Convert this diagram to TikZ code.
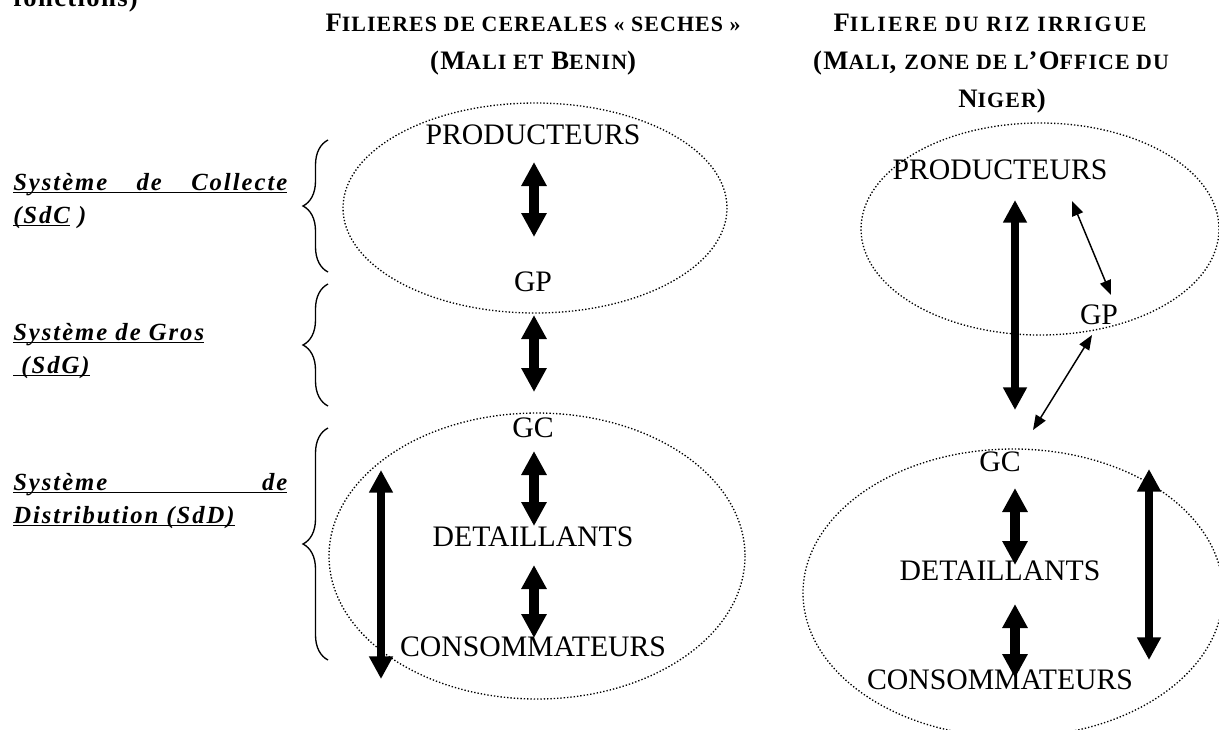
\documentclass[tikz,border=0pt]{standalone}
\usepackage{fontspec}
\setmainfont{Liberation Serif}
\newfontfamily\headfont{Liberation Serif}[LetterSpace=5]
\newfontfamily\levelfont{Liberation Serif}[LetterSpace=8]
\usetikzlibrary{arrows.meta,decorations.pathreplacing}

% underlined label lines: natural width, or stretched to a given width
\newcommand\ulnat[1]{\setbox0\hbox{#1}\usebox0\llap{\rule[-2.6pt]{\wd0}{1pt}}}
\newcommand\uljust[2]{\makebox[#1][s]{#2}\llap{\rule[-2.6pt]{#1}{1pt}}}
% reduced capitals for the headings
\newcommand\sm[1]{{\fontsize{16.4}{20}\selectfont #1}}

\begin{document}
\begin{tikzpicture}[x=0.75pt,y=-0.75pt,
  actor/.style={font=\fontsize{22.3}{26}\selectfont, inner sep=0pt, anchor=base},
  ttl/.style={font=\headfont\bfseries\fontsize{20}{24}\selectfont, inner sep=0pt, anchor=base},
  lvl/.style={font=\levelfont\bfseries\itshape\fontsize{18.5}{22}\selectfont, inner sep=0pt, anchor=base west},
  dotring/.style={line width=1pt, dash pattern=on 1pt off 1.5pt},
  bigarrow/.style={line width=7.5pt,
    {Triangle[length=18pt,width=18pt]}-{Triangle[length=18pt,width=18pt]}},
  longarrow/.style={line width=5.6pt,
    {Triangle[length=17pt,width=17pt]}-{Triangle[length=17pt,width=17pt]}},
  thinarrow/.style={line width=1.1pt,
    {Triangle[length=11pt,width=8.5pt]}-{Triangle[length=11pt,width=8.5pt]}},
  levelbrace/.style={decorate, decoration={brace, amplitude=18.75pt}, line width=1pt}
]
\useasboundingbox (0,0) rectangle (1219,729);
\clip (0,0) rectangle (1219,729);

% tail of the previous heading line
\node[ttl, anchor=base west] (prev) at (13,6) {fonctions)};

% column headings
\node[ttl] (tL1) at (533,31) {F\sm{ILIERES DE CEREALES « SECHES »}};
\node[ttl] (tL2) at (533,69) {(M\sm{ALI ET} B\sm{ENIN})};
\node[ttl] (tR1) at (990,31) {\addfontfeatures{LetterSpace=10}F\sm{ILIERE DU RIZ IRRIGUE}};
\node[ttl] (tR2) at (991,69) {(M\sm{ALI}, \sm{ZONE DE L}’O\sm{FFICE DU}};
\node[ttl] (tR3) at (1002,107) {N\sm{IGER})};

% level labels
\node[lvl] (sdc1) at (13,190) {\uljust{205.5pt}{Système de Collecte}};
\node[lvl] (sdc2) at (13,223) {\ulnat{(SdC}\ )};
\node[lvl] (sdg1) at (13,340) {\ulnat{Système de Gros}};
\node[lvl] (sdg2) at (13,373) {\ulnat{\ (SdG)}};
\node[lvl] (sdd1) at (13,490) {\uljust{205.5pt}{Système de}};
\node[lvl] (sdd2) at (13,523) {\ulnat{Distribution (SdD)}};

% braces grouping the levels
\draw[levelbrace] (328,272) -- (328,140);
\draw[levelbrace] (328,406) -- (328,284);
\draw[levelbrace] (328,660) -- (328,428);

% groupings of actors
\draw[dotring] (535,208) ellipse [x radius=192, y radius=105];
\draw[dotring] (537,556) ellipse [x radius=208, y radius=143];
\draw[dotring] (1040,229) ellipse [x radius=179, y radius=106];
\draw[dotring] (1013,593) ellipse [x radius=210, y radius=144];

% dry cereals chain
\node[actor] (prodL) at (533,144) {PRODUCTEURS};
\node[actor] (gpL)   at (533,291) {GP};
\node[actor] (gcL)   at (533,437) {GC};
\node[actor] (detL)  at (533,546) {DETAILLANTS};
\node[actor] (consL) at (533,656) {CONSOMMATEURS};

% irrigated rice chain
\node[actor] (prodR) at (1000,179) {PRODUCTEURS};
\node[actor] (gpR)   at (1099,324) {GP};
\node[actor] (gcR)   at (1000,471) {GC};
\node[actor] (detR)  at (1000,580) {DETAILLANTS};
\node[actor] (consR) at (1000,689) {CONSOMMATEURS};

% arrow ends
\coordinate (l1a) at (534,162); \coordinate (l1b) at (534,237);
\coordinate (l2a) at (534,315); \coordinate (l2b) at (534,392);
\coordinate (l3a) at (534,451); \coordinate (l3b) at (534,526);
\coordinate (l4a) at (534,565); \coordinate (l4b) at (534,638);
\coordinate (l5a) at (381,470); \coordinate (l5b) at (381,679);
\coordinate (r1a) at (1015,200); \coordinate (r1b) at (1015,410);
\coordinate (r2a) at (1072,201); \coordinate (r2b) at (1111,295);
\coordinate (r3a) at (1092,335); \coordinate (r3b) at (1033,430);
\coordinate (r4a) at (1015,488); \coordinate (r4b) at (1015,565);
\coordinate (r5a) at (1015,604); \coordinate (r5b) at (1015,678);
\coordinate (r6a) at (1149,469); \coordinate (r6b) at (1149,660);

\draw[bigarrow] (l1a) -- (l1b);
\draw[bigarrow] (l2a) -- (l2b);
\draw[bigarrow] (l3a) -- (l3b);
\draw[bigarrow] (l4a) -- (l4b);
\draw[longarrow] (l5a) -- (l5b);

\draw[longarrow] (r1a) -- (r1b);
\draw[thinarrow] (r2a) -- (r2b);
\draw[thinarrow] (r3a) -- (r3b);
\draw[bigarrow] (r4a) -- (r4b);
\draw[bigarrow] (r5a) -- (r5b);
\draw[longarrow] (r6a) -- (r6b);
\end{tikzpicture}
\end{document}
